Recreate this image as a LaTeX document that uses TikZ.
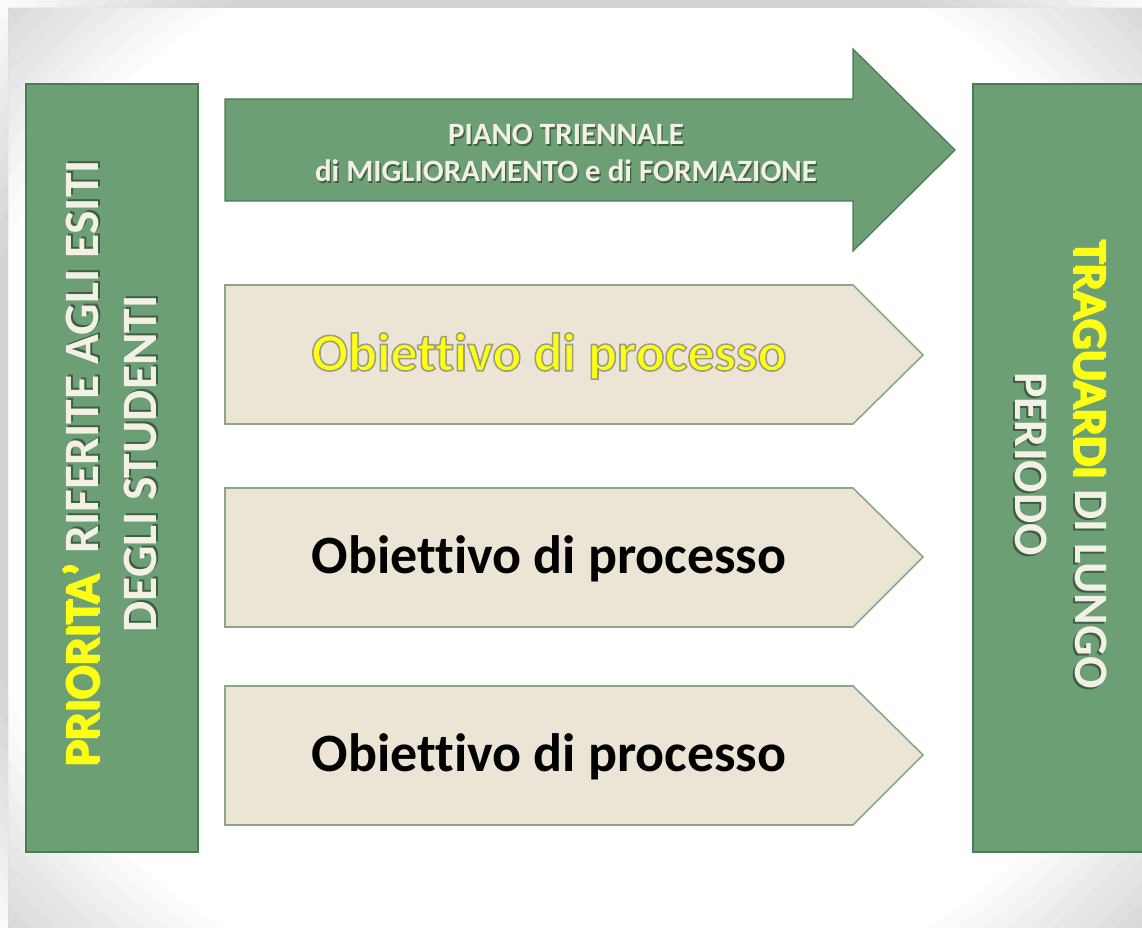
\documentclass[tikz,border=0pt]{standalone}
\usepackage{fontspec}
\setmainfont{Carlito}[Ligatures=CommonOff]
\definecolor{gfill}{HTML}{6CA074}
\definecolor{gdraw}{HTML}{4E7A55}
\definecolor{cfill}{HTML}{ECE5D5}
\definecolor{cdraw}{HTML}{8CA68C}
\definecolor{wtext}{HTML}{F3F1E6}
\definecolor{ytext}{HTML}{FFFF14}
\definecolor{gshadow}{HTML}{3F5E44}
\newcommand\shd[3]{\makebox[0pt][l]{\kern#3\raisebox{-#3}{\textcolor{#1}{#2}}}#2}
\newcommand\outlined[1]{\special{pdf:literal 0.62 0.62 0.50 RG 1.6 w 2 Tr}#1\special{pdf:literal 0 Tr}}
\tikzset{
  greenbox/.style={fill=gfill, draw=gdraw, line width=1.5pt},
  chevbox/.style={fill=cfill, draw=cdraw, line width=1.6pt, line join=miter},
  sidetext/.style={font=\bfseries\fontsize{49.5}{58}\selectfont, align=center, inner sep=0pt},
  sidetextr/.style={font=\bfseries\fontsize{48}{60}\selectfont, align=center, inner sep=0pt},
  toptext/.style={font=\bfseries\fontsize{31}{37}\selectfont, align=center, inner sep=0pt},
  objtext/.style={font=\bfseries\fontsize{54}{60}\selectfont, inner sep=0pt},
}
\begin{document}
\begin{tikzpicture}[x=1pt, y=-1pt]
\useasboundingbox (0,0) rectangle (1142,928);
\clip (0,0) rectangle (1142,928);
\fill[white] (0,0) rectangle (1142,928);
% soft grey vignette towards the corners
\foreach \k in {0,...,10}{
  \fill[black, opacity=0.014, even odd rule] (8,8) rectangle (1150,936)
    (575,468) ellipse [x radius={620*(1+0.025*\k)}, y radius={560*(1+0.025*\k)}];
}

% left box
\draw[greenbox] (26,84) rectangle (198,852);
\node[sidetext, text=wtext, rotate=90] (left) at (111,464)
  {\shd{gshadow}{\textcolor{ytext}{PRIORITA’}}{2pt} \shd{gshadow}{RIFERITE AGLI ESITI}{2pt}\\\shd{gshadow}{DEGLI STUDENTI}{2pt}};

% right box
\draw[greenbox] (973,84) rectangle (1160,852);
\node[sidetextr, text=wtext, rotate=-90] (right) at (1060,464)
  {\shd{gshadow}{\textcolor{ytext}{TRAGUARDI}}{2pt} \shd{gshadow}{DI LUNGO}{2pt}\\\shd{gshadow}{PERIODO}{2pt}};

% top arrow
\draw[greenbox, line width=1.3pt, line join=miter] (225,99) -- (853,99) -- (853,49) -- (955,150) -- (853,251) -- (853,201) -- (225,201) -- cycle;
\node[toptext, text=wtext] (top) at (566,154)
  {\shd{gshadow}{PIANO TRIENNALE}{1.3pt}\\\shd{gshadow}{di MIGLIORAMENTO e di FORMAZIONE}{1.3pt}};

% chevrons
\draw[chevbox] (225,285) -- (853,285) -- (923,355) -- (853,424) -- (225,424) -- cycle;
\draw[chevbox] (225,488) -- (853,488) -- (923,557) -- (853,627) -- (225,627) -- cycle;
\draw[chevbox] (225,686) -- (853,686) -- (923,755) -- (853,825) -- (225,825) -- cycle;

\node[objtext, text=ytext] (o1) at (549,356) {\outlined{Obiettivo di processo}};
\node[objtext, text=black] (o2) at (549,559) {Obiettivo di processo};
\node[objtext, text=black] (o3) at (549,757) {Obiettivo di processo};
\end{tikzpicture}
\end{document}
